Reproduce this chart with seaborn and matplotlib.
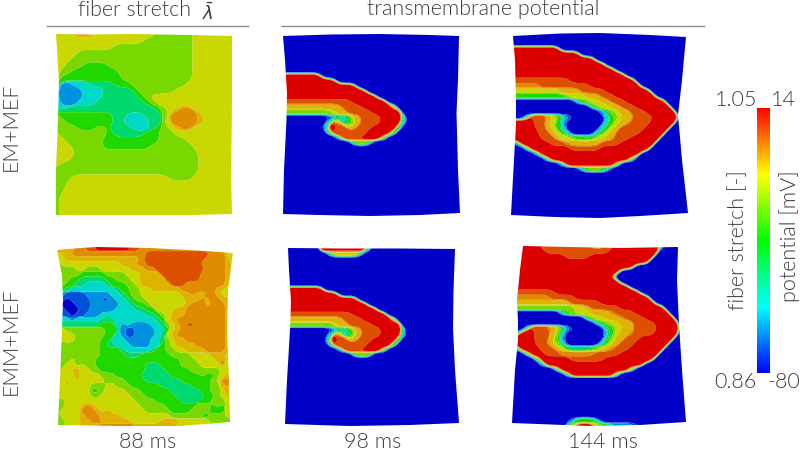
import numpy as np
import matplotlib
matplotlib.use("Agg")
import matplotlib.pyplot as plt
from matplotlib.colors import LinearSegmentedColormap
from matplotlib.patches import Polygon
import seaborn as sns

# fields are read off the picture, one hex digit per cell, index into band_colors
# short rows get padded on the right with the panel background
band_colors = ["#0000c8", "#0050d8", "#0090e0", "#00d8c8", "#00d870", "#20d800",
               "#78d800", "#c8d800", "#dfb400", "#e08c00", "#dc5000", "#dc0000"]
colorbar_colors = ["#0000ff", "#00ffff", "#00ff00", "#ffff00", "#ff0000"]

stretch_88_em = [
    "7778998" + "7" * 10 + "6" * 6,
    "7" * 15 + "6" * 8,
    "7" * 10 + "6" * 13,
    "7777" + "6" * 19,
    "777" + "6" * 20,
    "77" + "666" + "5555" + "6" * 14,
    "7" + "66" + "5" * 8 + "6" * 12,
    "7" + "5" * 10 + "6" * 12,
    "6" + "22" + "333" + "4444" + "555" + "6" * 9,
    "4" + "2222" + "3333" + "4444" + "5" + "666666",
    "3" + "2222" + "333" + "444444" + "5",
    "3" + "222" + "333" + "4" * 8 + "56",
    "4" + "3" + "4" * 15 + "56" + "7" + "899",
    "6" + "5" * 9 + "44" + "333" + "444" + "6" + "99999" + "8",
    "66" + "5" * 8 + "4" + "33333" + "44" + "7" + "99999" + "8",
    "6666" + "555" + "66" + "4444" + "333" + "4" + "5" + "6" + "7" + "899",
    "7" + "6" * 8 + "5" + "4444" + "4" + "55" + "666",
    "77" + "666666" + "5" * 10 + "6666",
    "777" + "66666" + "5" * 8 + "6" * 7,
    "7777" + "6" * 20,
    "777" + "6" * 21,
    "7" + "6" * 23,
    "6" * 24,
    "666" + "7" * 16 + "6666",
    "66",
    "66",
    "6",
    "6",
    "6",
    "6",
]

stretch_88_emm = [
    "8888" + "99" + "aa" + "bbbbbbb" + "aa" + "9" * 13 + "888888",
    "7" + "88" + "9" * 15 + "a" * 13 + "999" + "76",
    "77" + "8" * 15 + "9" + "a" * 12 + "9999" + "87",
    "6" + "7" * 12 + "888" + "99" + "a" * 11 + "9" * 5 + "87",
    "6666" + "77" + "666" + "7" * 6 + "888" + "99" + "a" * 10 + "9999" + "88",
    "65666" + "55555" + "6666" + "777" + "8888" + "a" * 8 + "9" * 5 + "88",
    "766" + "55" + "44444" + "55" + "666" + "77" + "88888" + "a" * 7 + "9" * 5 + "87",
    "76" + "55" + "44" + "3333" + "4" + "555" + "66" + "7" + "888888" + "aaa" + "9" * 8 + "87",
    "554" + "3" * 9 + "4" + "55" + "66" + "77" + "888888" + "99999" + "8" + "9" + "7" + "8" + "77",
    "42" + "1111" + "2222" + "2" + "33" + "4" + "5" + "66" + "7" * 8 + "88" + "9" + "88" + "99" + "8" + "777",
    "3" + "101111" + "2211" + "233" + "4566" + "7" * 8 + "888" + "9" + "8" + "99" + "888",
    "3" + "000" + "111" + "222222" + "33" + "4" + "55" + "6" + "7" * 7 + "8" + "999" + "8" + "999" + "88",
    "3" + "1000" + "11" + "22222" + "3333" + "44" + "55" + "7777" + "88" + "9" * 5 + "8" + "99" + "88",
    "3" + "11011" + "222" + "3" * 9 + "44" + "5" + "6" + "7" + "888" + "9" * 8 + "88",
    "433" + "2" + "33333" + "444" + "3" * 8 + "4" + "5" + "7" + "8" + "9" * 10 + "88",
    "5" + "4" * 8 + "555" + "3" + "2" + "3" + "2222" + "33" + "4" + "6" + "7" + "8" + "9" + "aa" + "9" * 6 + "88",
    "77" + "66" + "666666" + "55" + "4" + "2" + "11" + "2222" + "33" + "5" + "7" + "8" + "9" * 9 + "88",
    "7777" + "666666" + "55" + "3" + "2" + "11" + "2222" + "3" + "4" + "7" + "8" + "9" * 10 + "88",
    "6777" + "66666" + "55" + "333" + "22222" + "33" + "4" + "6" + "7" + "88" + "9" * 8 + "88",
    "6" * 9 + "5" + "44" + "333" + "2222" + "33" + "5" + "6" + "7" + "8888" + "9" * 6 + "88",
    "6" * 9 + "5555" + "4" + "33333" + "4" + "55" + "66" + "77" + "8888" + "9999" + "88",
    "6666" + "7" + "6666" + "55555" + "444" + "5" * 6 + "6666" + "7777" + "888" + "77",
    "666" + "7" + "6666" + "5" * 17 + "666" + "7777" + "89" + "77",
    "66" + "77" + "6" + "7" + "66" + "5" * 10 + "444" + "5555" + "6666" + "7777" + "9" + "77",
    "6" + "77" + "88" + "77" + "66" + "5" * 9 + "4444" + "5" * 5 + "6" * 6 + "777",
    "6" + "777" + "8" + "7777" + "666" + "5" * 5 + "4" * 6 + "5" * 6 + "6" + "55" + "6" + "7" + "88",
    "6" + "7" + "8" + "7" + "8" + "77777" + "6666" + "5555" + "4" * 7 + "5" * 6 + "6" + "7" + "99" + "8",
    "77" + "8" + "7777" + "666" + "77" + "666" + "5" * 6 + "4" * 6 + "5555" + "66" + "8" + "9" + "8",
    "7" * 7 + "55" + "6" + "7777" + "666" + "5" * 6 + "4" * 6 + "55" + "66" + "7" + "88",
    "7" * 7 + "66" + "7" * 6 + "666" + "5" * 6 + "4" * 6 + "55" + "6" + "7" + "87",
    "66" + "7" * 14 + "6666" + "5" * 5 + "4444" + "55" + "666" + "77",
    "66" + "777" + "898" + "7" * 9 + "6" * 5 + "5" * 6 + "666" + "565" + "77",
    "67777" + "999" + "8" + "7" + "8" + "7" * 7 + "6" * 5 + "5555" + "6666" + "555" + "77",
    "67777" + "8" + "999" + "8888" + "7" * 10 + "6" * 6 + "55" + "666" + "77",
    "66" + "777" + "88" + "99" + "88" + "8888" + "7" * 6 + "8888" + "7" * 6 + "666" + "66",
    "66" + "777" + "8888" + "9" * 7 + "8" * 8 + "7" * 7 + "66666",
]

potential_98_em = [
    "", "", "", "", "", "", "", "",
    "b" * 8,
    "b" * 11,
    "b" * 15,
    "b" * 17,
    "b" * 19,
    "a" * 14 + "b" * 7,
    "8" * 12 + "aaaa" + "b" * 6 + "7",
    "6" * 10 + "788" + "aaaaa" + "b" * 6,
    "0" * 12 + "1578" + "aaaa" + "bbbb4",
    "0" * 9 + "3b83058" + "aaaa" + "bbbb3",
    "0" * 8 + "3bbaa78" + "aaa" + "bbbbb5",
    "0" * 9 + "5b" + "a" * 6 + "b" * 5 + "5",
    "0" * 11 + "3" + "b" * 8 + "5",
    "0" * 14 + "4664",
]

potential_98_emm = [
    "0" * 7 + "b" * 10 + "3",
    "0" * 9 + "4777774",
] + potential_98_em[2:]

potential_144_em = [
    "", "", "",
    "b" * 10,
    "b" * 14,
    "b" * 17,
    "b" * 19,
    "b" * 21,
    "b" * 23,
    "a" * 12 + "b" * 13,
    "999999" + "a" * 10 + "b" * 10,
    "7" * 10 + "8888" + "aaaaa" + "b" * 9,
    "5" * 11 + "6" + "777" + "888" + "aaa" + "b" * 8,
    "0" * 13 + "356" + "77" + "88" + "aaa" + "b" * 8,
    "0" * 16 + "46" + "77" + "88" + "aaa" + "b" * 7,
    "0" * 18 + "2467" + "88" + "aaa" + "b" * 6,
    "0004baaa87643" + "0" * 6 + "3567" + "88" + "aaaa" + "b" * 5,
    "bbbbbaa8752002" + "0" * 5 + "357" + "88" + "aaaa" + "b" * 5,
    "bbbbbaa8753" + "0" * 7 + "3578" + "aaaaa" + "b" * 5,
    "bbbbbbaa8753" + "0" * 5 + "3578" + "aaaaa" + "b" * 5,
    "bbbbbbaaa877655" + "45" + "77" + "88" + "aaa" + "b" * 6,
    "03" + "b" * 6 + "aaa" + "9" + "8" * 6 + "aaaa" + "b" * 7,
    "0004" + "b" * 8 + "a" * 6 + "b" * 10,
    "0" * 5 + "3" + "b" * 20,
    "0" * 7 + "4" + "b" * 16 + "5",
    "0" * 10 + "3" + "b" * 10 + "6",
    "0" * 14 + "356653",
]

potential_144_emm = [
    "b" * 6 + "a" * 10 + "888" + "aa" + "b" * 9 + "4",
    "b" * 7 + "a" * 13 + "b" * 10,
    "b" * 11 + "aaaaa" + "b" * 13,
    "b" * 28,
    "b" * 25,
    "b" * 22,
    "b" * 20,
    "b" * 22,
    "b" * 24,
    "a" * 9 + "b" * 17,
    "9" * 8 + "aaaaa" + "b" * 15,
    "8" * 12 + "a" * 6 + "b" * 11,
    "6" * 13 + "77" + "8" + "a" * 6 + "b" * 9,
    "0" * 10 + "356" + "777" + "8888" + "9" + "aaaa" + "b" * 7,
    "0" * 15 + "46" + "77" + "888" + "9" + "aaaa" + "b" * 6,
    "0" * 17 + "356" + "77" + "888" + "aaaa" + "b" * 5,
    "0004baaa98753" + "0" * 6 + "356" + "7" + "88" + "a" * 5 + "bbbb",
    "03bbbaaa863" + "00" + "31" + "0000" + "2" + "57" + "88" + "9" + "aaaa" + "b" * 5,
    "bbbbbaaa852" + "0" * 8 + "46" + "88" + "aaa" + "b" * 7,
    "bbbbbaa8763" + "0" * 7 + "3578" + "aaa" + "b" * 7,
    "04bbbbaaa875" + "4444" + "5678" + "9" + "aaa" + "b" * 7,
    "0005bbbaaa" + "9" * 7 + "a" * 5 + "b" * 8,
    "0" * 5 + "5" + "b" * 6 + "a" * 7 + "b" * 10,
    "0" * 6 + "3" + "b" * 20,
    "0" * 9 + "5" + "b" * 14 + "6",
    "0" * 11 + "4" + "b" * 9 + "6",
    "", "", "", "", "", "", "", "",
    "0" * 12 + "2" + "5555" + "3",
    "0" * 11 + "37" + "bbbb" + "8654" + "2222" + "1",
]

# deformed mesh boundary of each panel, clockwise from top left
outline_a_x = [56, 90, 130, 190, 232, 232, 231, 232, 190, 120, 56, 56, 58, 59, 57]
outline_a_y = [34, 34.5, 34, 35, 36, 100, 180, 214, 215, 215, 215, 170, 120, 80, 50]
outline_b_x = [283, 330, 380, 430, 459, 458, 456.5, 458, 460, 420, 370, 320, 283, 284, 286.5, 287, 285]
outline_b_y = [36, 34.5, 34, 35, 36, 80, 113, 170, 213, 215, 216, 215, 214, 170, 120, 93, 60]
outline_c_x = [513, 560, 600, 650, 686, 682, 678, 682, 688, 640, 600, 555, 511, 514, 516, 516, 515]
outline_c_y = [36, 33.5, 33, 35, 37, 80, 115, 160, 213, 216, 218, 217, 215, 160, 125, 100, 60]
outline_d_x = [57, 80, 97, 150, 205, 233, 228, 227, 229, 230, 180, 120, 58, 60, 62, 63, 62, 59]
outline_d_y = [250, 248, 247, 248, 251, 253, 290, 330, 380, 422, 426, 426, 425, 380, 330, 300, 275, 260]
outline_e_x = [288, 340, 400, 455, 453.5, 453, 455, 459, 410, 350, 285, 287, 290, 291, 289]
outline_e_y = [248, 248.5, 248.5, 249, 290, 328, 370, 423, 425, 426, 424, 380, 330, 302, 270]
outline_f_x = [523, 570, 620, 678, 677, 679, 682, 686, 640, 590, 512, 515, 518, 518, 517, 520]
outline_f_y = [246, 247, 248, 247, 280, 325, 370, 422, 425, 426, 423, 370, 340, 322, 300, 270]

stretch_scale = np.linspace(1.05, 0.86, 256)

sns.set_theme(style="white")
plt.rcParams["font.family"] = ["Lato", "DejaVu Sans"]
plt.rcParams["mathtext.fontset"] = "dejavusans"
text_color = "#3c3c3c"
UPS = 6


def to_grid(rows, size, fill):
    out = np.full((size, size), int(fill, 16), dtype=float)
    for i, row in enumerate(rows):
        row = row[:size].ljust(size, fill)
        out[i] = [int(c, 16) for c in row]
    # extra cells all round so the field reaches the bent edges
    return np.pad(out, 4, mode="edge")


def soften(mask, width):
    # box filter twice on the fine grid, rounds off the cell stairs
    kernel = np.ones(width) / width
    for axis in (0, 1):
        for _ in range(2):
            mask = np.apply_along_axis(lambda m: np.convolve(m, kernel, mode="same"), axis, mask)
    return mask


def smooth_field(z, width, gain):
    # every band edge is rounded on its own so a jump across many bands stays a thin rim
    fine = np.kron(z, np.ones((UPS, UPS)))
    total = np.zeros_like(fine)
    for level in range(1, 12):
        b = soften((fine >= level).astype(float), width)
        total += np.clip((b - 0.5) * gain + 0.5, 0, 1)
    return total


def draw_field(ax, rows, size, fill, x0, dx, y0, dy, outline_x, outline_y, width=11, gain=4.5):
    z = smooth_field(to_grid(rows, size, fill), width, gain)
    pos = (np.arange(z.shape[0]) + 0.5) / UPS - 4.5
    x = x0 + dx * pos
    y = y0 + dy * pos
    cs = ax.contourf(x, y, z, levels=np.arange(-0.5, 12), colors=band_colors, antialiased=True)
    clip = Polygon(np.column_stack([outline_x, outline_y]), transform=ax.transData)
    cs.set_clip_path(clip)


fig = plt.figure(figsize=(8, 4.53), dpi=100)
ax = fig.add_axes([0, 0, 1, 1])
ax.set_xlim(0, 800)
ax.set_ylim(453, 0)
ax.axis("off")

draw_field(ax, stretch_88_em, 30, "7", 56, 6.07, 34.3, 6.23, outline_a_x, outline_a_y)
draw_field(ax, potential_98_em, 36, "0", 283.3, 5.03, 35, 5.13, outline_b_x, outline_b_y)
draw_field(ax, potential_144_em, 36, "0", 511.7, 5.03, 33.3, 5.23, outline_c_x, outline_c_y)
draw_field(ax, stretch_88_emm, 36, "7", 56.7, 5, 247.7, 5.07, outline_d_x, outline_d_y, width=8)
draw_field(ax, potential_98_emm, 36, "0", 286.7, 4.87, 249, 5.03, outline_e_x, outline_e_y)
draw_field(ax, potential_144_emm, 36, "0", 512.3, 4.97, 246, 5.13, outline_f_x, outline_f_y)

ax.hlines(25.5, 46, 249, color="#8c8c8c", lw=1)
ax.hlines(25.5, 281, 705, color="#8c8c8c", lw=1)

big = 15.5
light = dict(fontsize=big, color=text_color, fontweight=300, ha="center", va="center")
ax.text(135, 10, "fiber stretch", **light)
ax.text(208, 12, r"$\bar{\lambda}$", fontsize=13, color=text_color, ha="center", va="center")
ax.text(483, 9, "transmembrane potential", **light)
ax.text(11, 127, "EM+MEF", rotation=90, **light)
ax.text(11, 341, "EMM+MEF", rotation=90, **light)
ax.text(148, 442, "88 ms", **light)
ax.text(373, 442, "98 ms", **light)
ax.text(603, 442, "144 ms", **light)

ax.text(736, 100, "1.05", **light)
ax.text(783, 100, "14", **light)
ax.text(735, 382, "0.86", **light)
ax.text(784, 382, "-80", **light)
ax.text(738, 240, "fiber stretch [-]", rotation=90, **light)
ax.text(790, 236, "potential [mV]", rotation=90, **light)

# colour scale strip
cax = fig.add_axes([757 / 800, 1 - 373 / 453, 13 / 800, 265 / 453])
sns.heatmap(stretch_scale.reshape(-1, 1), ax=cax, cbar=False, xticklabels=False, yticklabels=False,
            cmap=LinearSegmentedColormap.from_list("rainbow_bar", colorbar_colors),
            vmin=0.86, vmax=1.05)

fig.savefig("out.png", dpi=100)
